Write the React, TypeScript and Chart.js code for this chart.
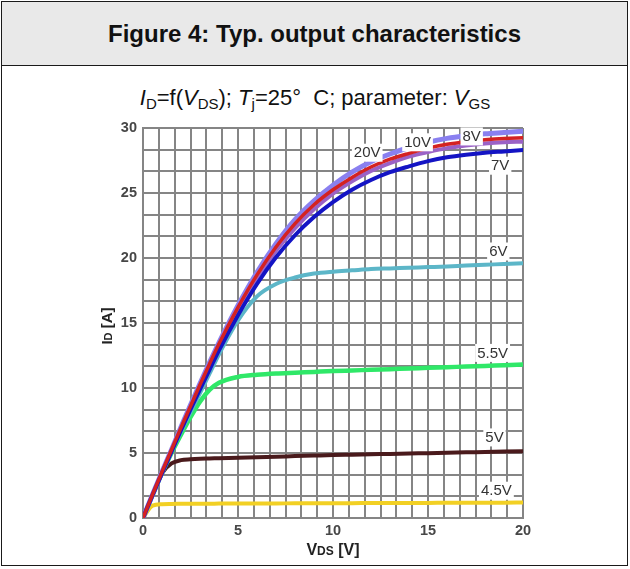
import React, { useEffect, useRef } from "react";
import { Chart, registerables } from "chart.js";

Chart.register(...registerables);

// ---- data ----
const vds = [0, 0.5, 1, 1.5, 2, 2.5, 3, 3.5, 4, 5, 6, 7, 8, 9, 10, 11, 12, 13, 14, 15, 16, 17, 18, 19, 20];
const id20V = [0, 1.8, 3.55, 5.25, 7.0, 8.7, 10.35, 11.95, 13.5, 16.35, 18.9, 21.1, 22.95, 24.4, 25.6, 26.6, 27.4, 28.0, 28.5, 28.9, 29.2, 29.4, 29.55, 29.65, 29.75];
const id10V = [0, 1.8, 3.55, 5.25, 6.95, 8.6, 10.25, 11.85, 13.4, 16.2, 18.7, 20.85, 22.65, 24.1, 25.25, 26.2, 27.0, 27.6, 28.05, 28.45, 28.75, 28.95, 29.1, 29.2, 29.25];
const id8V = [0, 1.8, 3.5, 5.2, 6.9, 8.5, 10.15, 11.75, 13.25, 16.0, 18.45, 20.55, 22.3, 23.75, 24.95, 25.9, 26.7, 27.3, 27.8, 28.15, 28.45, 28.65, 28.8, 28.9, 28.95];
const id7V = [0, 1.75, 3.45, 5.1, 6.75, 8.35, 9.9, 11.4, 12.9, 15.6, 18.0, 20.05, 21.75, 23.15, 24.3, 25.25, 26.0, 26.6, 27.05, 27.45, 27.75, 27.95, 28.1, 28.2, 28.3];
const id6V = [0, 1.75, 3.45, 5.1, 6.65, 8.15, 9.6, 11.1, 12.6, 15.2, 17.05, 18.0, 18.5, 18.8, 18.95, 19.05, 19.15, 19.2, 19.25, 19.3, 19.35, 19.42, 19.48, 19.54, 19.6];
const id55V = [0, 1.75, 3.45, 5.0, 6.4, 7.75, 8.95, 9.85, 10.4, 10.85, 11.02, 11.12, 11.18, 11.24, 11.3, 11.35, 11.4, 11.45, 11.5, 11.55, 11.6, 11.65, 11.7, 11.75, 11.8];
const id5V = [0, 1.75, 3.45, 4.2, 4.45, 4.52, 4.56, 4.58, 4.6, 4.64, 4.68, 4.72, 4.76, 4.8, 4.84, 4.87, 4.9, 4.93, 4.96, 4.99, 5.02, 5.05, 5.08, 5.11, 5.14];
const id45V = [0, 0.95, 1.06, 1.08, 1.09, 1.1, 1.1, 1.1, 1.11, 1.11, 1.12, 1.12, 1.13, 1.13, 1.14, 1.14, 1.15, 1.15, 1.16, 1.16, 1.17, 1.17, 1.18, 1.18, 1.19];

const xMajorTicks = [0, 5, 10, 15, 20];
const yMajorTicks = [0, 5, 10, 15, 20, 25, 30];
const xGridPerMajor = 6;
const yGridPerMajor = 3;

// curve label anchors (data coordinates)
const curveLabels = [
  { text: "20V", x: 11.8, y: 28.1 },
  { text: "10V", x: 14.45, y: 28.9 },
  { text: "8V", x: 17.3, y: 29.35 },
  { text: "7V", x: 18.8, y: 27.1 },
  { text: "6V", x: 18.7, y: 20.5 },
  { text: "5.5V", x: 18.4, y: 12.7 },
  { text: "5V", x: 18.5, y: 6.2 },
  { text: "4.5V", x: 18.6, y: 2.1 },
];

const FONT = "'Liberation Sans', Arial, sans-serif";

function gridValues(majors: number[], per: number) {
  const out: number[] = [];
  for (let i = 0; i < majors.length - 1; i++) {
    const a = majors[i];
    const b = majors[i + 1];
    for (let k = 0; k < per; k++) out.push(a + ((b - a) * k) / per);
  }
  out.push(majors[majors.length - 1]);
  return out;
}

function majorLabel(majors: number[], v: number) {
  const m = majors.find((t) => Math.abs(t - v) < 1e-6);
  return m === undefined ? "" : String(m);
}

const series = [
  { name: "20V", data: id20V, color: "#8a80f0", width: 5, order: 4 },
  { name: "10V", data: id10V, color: "#d42222", width: 3.5, order: 1 },
  { name: "8V", data: id8V, color: "#9b62c6", width: 4, order: 3 },
  { name: "7V", data: id7V, color: "#1414c4", width: 4, order: 2 },
  { name: "6V", data: id6V, color: "#5cb6c8", width: 4, order: 5 },
  { name: "5.5V", data: id55V, color: "#2fe868", width: 4.5, order: 6 },
  { name: "5V", data: id5V, color: "#4a1a1c", width: 4, order: 7 },
  { name: "4.5V", data: id45V, color: "#f2d024", width: 4, order: 8 },
];

const overlayPlugin = {
  id: "overlay",
  afterDatasetsDraw(chart: any) {
    const ctx = chart.ctx;
    const xs = chart.scales.x;
    const ys = chart.scales.y;
    ctx.save();
    ctx.font = `15px ${FONT}`;
    ctx.textAlign = "center";
    ctx.textBaseline = "middle";
    for (const l of curveLabels) {
      const px = xs.getPixelForValue(l.x);
      const py = ys.getPixelForValue(l.y);
      const w = ctx.measureText(l.text).width;
      ctx.fillStyle = "#ffffff";
      ctx.fillRect(px - w / 2 - 2, py - 9, w + 4, 18);
      ctx.fillStyle = "#333333";
      ctx.fillText(l.text, px, py + 0.5);
    }
    ctx.restore();
  },
  afterDraw(chart: any) {
    const ctx = chart.ctx;
    const area = chart.chartArea;
    ctx.save();
    ctx.fillStyle = "#222222";
    ctx.textBaseline = "alphabetic";
    // x title: V_DS [V]
    {
      const big = `bold 16px ${FONT}`;
      const small = `bold 12px ${FONT}`;
      const parts = [
        { t: "V", f: big },
        { t: "DS", f: small },
        { t: " [V]", f: big },
      ];
      let total = 0;
      for (const p of parts) {
        ctx.font = p.f;
        total += ctx.measureText(p.t).width;
      }
      let x = (area.left + area.right) / 2 - total / 2;
      const y = area.bottom + 37;
      for (const p of parts) {
        ctx.font = p.f;
        ctx.textAlign = "left";
        ctx.fillText(p.t, x, y);
        x += ctx.measureText(p.t).width;
      }
    }
    // y title: I_D [A]
    {
      const big = `bold 15px ${FONT}`;
      const small = `bold 11px ${FONT}`;
      const parts = [
        { t: "I", f: big },
        { t: "D", f: small },
        { t: " [A]", f: big },
      ];
      let total = 0;
      for (const p of parts) {
        ctx.font = p.f;
        total += ctx.measureText(p.t).width;
      }
      ctx.translate(area.left - 31, (area.top + area.bottom) / 2 + 3);
      ctx.rotate(-Math.PI / 2);
      let x = -total / 2;
      for (const p of parts) {
        ctx.font = p.f;
        ctx.textAlign = "left";
        ctx.fillText(p.t, x, 0);
        x += ctx.measureText(p.t).width;
      }
    }
    ctx.restore();
  },
};

function OutputChart() {
  const ref = useRef<HTMLCanvasElement | null>(null);
  useEffect(() => {
    if (!ref.current) return;
    const xGrid = gridValues(xMajorTicks, xGridPerMajor);
    const yGrid = gridValues(yMajorTicks, yGridPerMajor);
    const gridColor = "#858585";
    const tickFont = { family: FONT, size: 14.5, weight: "bold" as const };
    const chart = new Chart(ref.current, {
      type: "line",
      data: {
        datasets: series.map((s) => ({
          label: s.name,
          data: vds.map((v, i) => ({ x: v, y: s.data[i] })),
          borderColor: s.color,
          backgroundColor: s.color,
          borderWidth: s.width,
          pointRadius: 0,
          cubicInterpolationMode: "monotone" as const,
          fill: false,
          order: s.order,
          borderCapStyle: "round" as const,
        })),
      },
      options: {
        responsive: false,
        animation: false,
        devicePixelRatio: 1,
        layout: { padding: { top: 18, right: 107, left: 0, bottom: 0 } },
        plugins: { legend: { display: false }, tooltip: { enabled: false }, title: { display: false } },
        scales: {
          x: {
            type: "linear",
            min: 0,
            max: 20,
            afterBuildTicks: (s: any) => {
              s.ticks = xGrid.map((v) => ({ value: v }));
            },
            afterFit: (s: any) => {
              s.height = 47;
            },
            ticks: {
              autoSkip: false,
              maxRotation: 0,
              padding: 4,
              color: "#474747",
              font: tickFont,
              callback: (v: any) => majorLabel(xMajorTicks, Number(v)),
            },
            grid: { color: gridColor, lineWidth: 2, drawTicks: false },
            border: { color: gridColor, width: 2 },
          },
          y: {
            type: "linear",
            min: 0,
            max: 30,
            afterBuildTicks: (s: any) => {
              s.ticks = yGrid.map((v) => ({ value: v }));
            },
            afterFit: (s: any) => {
              s.width = 143;
            },
            ticks: {
              autoSkip: false,
              padding: 6,
              color: "#474747",
              font: tickFont,
              callback: (v: any) => majorLabel(yMajorTicks, Number(v)),
            },
            grid: { color: gridColor, lineWidth: 2, drawTicks: false },
            border: { color: gridColor, width: 2 },
          },
        },
      },
      plugins: [overlayPlugin],
    });
    return () => chart.destroy();
  }, []);
  return <canvas ref={ref} width={630} height={455} style={{ position: "absolute", left: 0, top: 110, width: 630, height: 455 }} />;
}

export default function App() {
  const sub: React.CSSProperties = { fontSize: 15, position: "relative", top: 4, lineHeight: 0, verticalAlign: "baseline" };
  return (
    <div style={{ position: "absolute", left: 0, top: 0, width: 630, height: 569, background: "#fff", fontFamily: FONT, overflow: "hidden" }}>
      <div style={{ position: "absolute", left: 1, top: 1, width: 625, height: 563, border: "1.5px solid #1a1a1a", background: "#fff" }} />
      <div style={{ position: "absolute", left: 1, top: 1, width: 625, height: 63, border: "1.5px solid #1a1a1a", background: "#e9e9e9", display: "flex", alignItems: "center", justifyContent: "center", fontWeight: "bold", fontSize: 24, color: "#111" }}>
        Figure 4: Typ. output characteristics
      </div>
      <div style={{ position: "absolute", left: 0, top: 86, width: 630, textAlign: "center", fontSize: 22, color: "#111", lineHeight: "24px", whiteSpace: "pre" }}>
        <i>I</i><span style={sub}>D</span>=f(<i>V</i><span style={sub}>DS</span>); <i>T</i><span style={sub}>j</span>=25°  C; parameter: <i>V</i><span style={sub}>GS</span>
      </div>
      <OutputChart />
    </div>
  );
}
